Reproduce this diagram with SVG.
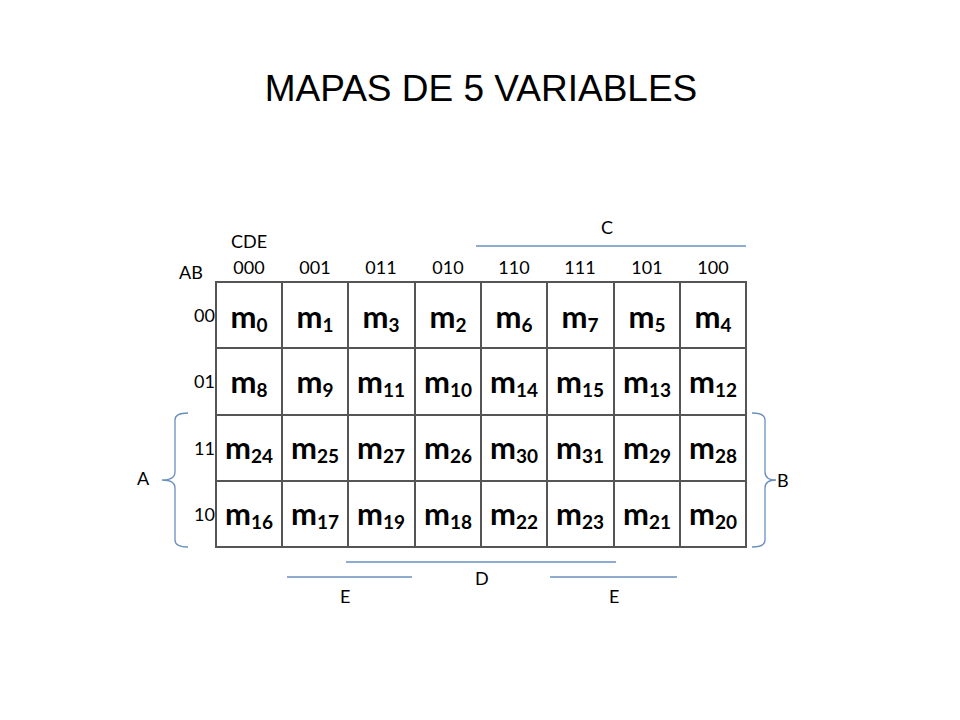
<svg xmlns="http://www.w3.org/2000/svg" width="960" height="720" viewBox="0 0 960 720">
<style>
.t{font-family:"Liberation Sans",Arial,sans-serif;font-size:37px;fill:#000}
.l{font-family:Lato,"Open Sans",sans-serif;font-size:18px;fill:#000}
.m{font-family:Lato,"Open Sans",sans-serif;font-size:31px;font-weight:bold;fill:#000;text-anchor:middle}
.m tspan{font-size:19px}
.g{stroke:#555;stroke-width:2;fill:none}
.b{stroke:#6a8fc0;stroke-width:1.3;fill:none}
</style>
<rect width="960" height="720" fill="#fff"/>
<text class="t" x="481" y="101" text-anchor="middle">MAPAS DE 5 VARIABLES</text>
<g id="grid">
<rect class="g" x="216" y="282" width="530" height="265"/>
<path class="g" d="M282 282V547M348 282V547M415 282V547M481 282V547M547 282V547M614 282V547M680 282V547M216 348H746M216 415H746M216 481H746"/>
</g>
<g id="labels">
<text class="l" x="231" y="248">CDE</text>
<text class="l" x="179" y="279">AB</text>
<g text-anchor="middle">
<text class="l" x="249" y="274">000</text><text class="l" x="315" y="274">001</text><text class="l" x="381" y="274">011</text><text class="l" x="448" y="274">010</text>
<text class="l" x="514" y="274">110</text><text class="l" x="580" y="274">111</text><text class="l" x="647" y="274">101</text><text class="l" x="713" y="274">100</text>
</g>
<g text-anchor="end">
<text class="l" x="215" y="322">00</text><text class="l" x="215" y="388">01</text><text class="l" x="215" y="455">11</text><text class="l" x="215" y="521">10</text>
</g>
<text class="l" x="601" y="234">C</text>
<text class="l" x="137" y="485">A</text>
<text class="l" x="777" y="487">B</text>
<text class="l" x="475" y="585">D</text>
<text class="l" x="340" y="603">E</text>
<text class="l" x="609" y="603">E</text>
</g>
<g id="cells">
<text class="m" x="249" y="328">m<tspan dy="4">0</tspan></text>
<text class="m" x="315" y="328">m<tspan dy="4">1</tspan></text>
<text class="m" x="381" y="328">m<tspan dy="4">3</tspan></text>
<text class="m" x="448" y="328">m<tspan dy="4">2</tspan></text>
<text class="m" x="514" y="328">m<tspan dy="4">6</tspan></text>
<text class="m" x="580" y="328">m<tspan dy="4">7</tspan></text>
<text class="m" x="647" y="328">m<tspan dy="4">5</tspan></text>
<text class="m" x="713" y="328">m<tspan dy="4">4</tspan></text>
<text class="m" x="249" y="393">m<tspan dy="4">8</tspan></text>
<text class="m" x="315" y="393">m<tspan dy="4">9</tspan></text>
<text class="m" x="381" y="393">m<tspan dy="4">11</tspan></text>
<text class="m" x="448" y="393">m<tspan dy="4">10</tspan></text>
<text class="m" x="514" y="393">m<tspan dy="4">14</tspan></text>
<text class="m" x="580" y="393">m<tspan dy="4">15</tspan></text>
<text class="m" x="647" y="393">m<tspan dy="4">13</tspan></text>
<text class="m" x="713" y="393">m<tspan dy="4">12</tspan></text>
<text class="m" x="249" y="459">m<tspan dy="4">24</tspan></text>
<text class="m" x="315" y="459">m<tspan dy="4">25</tspan></text>
<text class="m" x="381" y="459">m<tspan dy="4">27</tspan></text>
<text class="m" x="448" y="459">m<tspan dy="4">26</tspan></text>
<text class="m" x="514" y="459">m<tspan dy="4">30</tspan></text>
<text class="m" x="580" y="459">m<tspan dy="4">31</tspan></text>
<text class="m" x="647" y="459">m<tspan dy="4">29</tspan></text>
<text class="m" x="713" y="459">m<tspan dy="4">28</tspan></text>
<text class="m" x="249" y="525">m<tspan dy="4">16</tspan></text>
<text class="m" x="315" y="525">m<tspan dy="4">17</tspan></text>
<text class="m" x="381" y="525">m<tspan dy="4">19</tspan></text>
<text class="m" x="448" y="525">m<tspan dy="4">18</tspan></text>
<text class="m" x="514" y="525">m<tspan dy="4">22</tspan></text>
<text class="m" x="580" y="525">m<tspan dy="4">23</tspan></text>
<text class="m" x="647" y="525">m<tspan dy="4">21</tspan></text>
<text class="m" x="713" y="525">m<tspan dy="4">20</tspan></text>
</g>
<g id="connectors">
<path class="b" d="M476 246H746"/>
<path class="b" d="M346 562H616"/>
<path class="b" d="M287 577H412"/>
<path class="b" d="M550 577H677"/>
<path class="b" d="M188 413Q175 413 175 420V472Q175 480 162 480Q175 480 175 488V540Q175 547 188 547"/>
<path class="b" d="M752 413Q765 413 765 420V472Q765 480 776 480Q765 480 765 488V540Q765 547 752 547"/>
</g>
</svg>
